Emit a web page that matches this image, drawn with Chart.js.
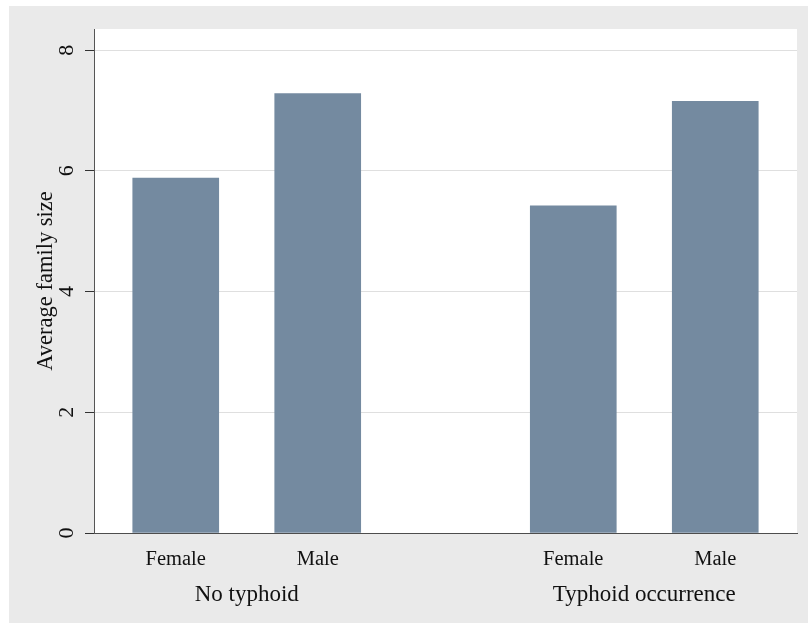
<!DOCTYPE html>
<html>
<head>
<meta charset="utf-8">
<title>Average family size</title>
<script src="https://cdn.jsdelivr.net/npm/chart.js@4"></script>
<style>
  body { margin: 0; background: #fff; }
  #wrap { width: 808px; height: 623px; }
</style>
</head>
<body>
<div id="wrap"><canvas id="familyChart" width="808" height="623"></canvas></div>
<script>
  var groups = ["No typhoid", "Typhoid occurrence"];
  var sexes = ["Female", "Male"];
  var femaleSize = [5.88, 5.42];
  var maleSize = [7.28, 7.15];
  var yTicks = [0, 2, 4, 6, 8];
  var yTickLabels = ["0", "2", "4", "6", "8"];

  var barColor = "#748aa0";
  var serif = "'Liberation Serif', 'Times New Roman', serif";

  // slots along x, counted in bar widths (stata-like gaps)
  var outerGap = 0.45, innerGap = 0.65, groupGap = 1.97;
  var groupSpan = sexes.length + (sexes.length - 1) * innerGap;
  var xMax = 2 * outerGap + groups.length * groupSpan + (groups.length - 1) * groupGap;

  function barPos(g, s) {
    return outerGap + g * (groupSpan + groupGap) + s * (1 + innerGap) + 0.5;
  }
  function groupPos(g) {
    return outerGap + g * (groupSpan + groupGap) + groupSpan / 2;
  }

  var catTicks = [], catLabels = [];
  groups.forEach(function (g, gi) {
    sexes.forEach(function (s, si) {
      catTicks.push(barPos(gi, si));
      catLabels.push(s);
    });
  });
  var groupTicks = groups.map(function (g, gi) { return groupPos(gi); });

  function seriesPoints(values, si) {
    return values.map(function (v, gi) { return { x: barPos(gi, si), y: v }; });
  }

  // grey outer box + white plot region
  var backdrop = {
    id: 'backdrop',
    beforeDraw: function (chart) {
      var ctx = chart.ctx, a = chart.chartArea;
      ctx.save();
      ctx.fillStyle = '#ffffff';
      ctx.fillRect(0, 0, chart.width, chart.height);
      ctx.fillStyle = '#eaeaea';
      ctx.fillRect(9, 6, chart.width - 9, chart.height - 6);
      ctx.fillStyle = '#ffffff';
      ctx.fillRect(a.left, a.top, a.right - a.left, a.bottom - a.top);
      ctx.restore();
    }
  };

  // y tick labels turned on their side, like the original
  var sideLabels = {
    id: 'sideLabels',
    afterDraw: function (chart) {
      var ctx = chart.ctx, y = chart.scales.y;
      ctx.save();
      ctx.fillStyle = '#111';
      ctx.font = '22px ' + serif;
      ctx.textAlign = 'center';
      ctx.textBaseline = 'middle';
      yTicks.forEach(function (v, i) {
        ctx.save();
        ctx.translate(y.left + 67, y.getPixelForValue(v));
        ctx.rotate(-Math.PI / 2);
        ctx.fillText(yTickLabels[i], 0, 0);
        ctx.restore();
      });
      ctx.restore();
    }
  };

  var ctx = document.getElementById('familyChart').getContext('2d');

  new Chart(ctx, {
    type: 'bar',
    data: {
      datasets: [{
        label: sexes[0],
        data: seriesPoints(femaleSize, 0),
        backgroundColor: barColor,
        barThickness: 86,
        grouped: false
      }, {
        label: sexes[1],
        data: seriesPoints(maleSize, 1),
        backgroundColor: barColor,
        barThickness: 86,
        grouped: false
      }]
    },
    options: {
      responsive: false,
      animation: false,
      layout: { padding: { left: 0, top: 29, right: 11, bottom: 0 } },
      plugins: {
        legend: { display: false },
        tooltip: { enabled: false }
      },
      scales: {
        x: {
          type: 'linear',
          position: 'bottom',
          weight: 0,
          min: 0,
          max: xMax,
          offset: false,
          grid: { display: false, drawTicks: false },
          border: { display: true, color: '#4d4d4d', width: 1 },
          afterBuildTicks: function (scale) {
            scale.ticks = catTicks.map(function (v) { return { value: v }; });
          },
          ticks: {
            autoSkip: false,
            maxRotation: 0,
            padding: 14,
            color: '#111',
            font: { family: serif, size: 20.5 },
            callback: function (v, i) { return catLabels[i]; }
          },
          afterFit: function (scale) { scale.height = 45; }
        },
        x2: {
          type: 'linear',
          position: 'bottom',
          weight: 1,
          min: 0,
          max: xMax,
          offset: false,
          grid: { display: false, drawTicks: false },
          border: { display: false },
          afterBuildTicks: function (scale) {
            scale.ticks = groupTicks.map(function (v) { return { value: v }; });
          },
          ticks: {
            autoSkip: false,
            maxRotation: 0,
            padding: 3,
            color: '#111',
            font: { family: serif, size: 23 },
            callback: function (v, i) { return groups[i]; }
          },
          afterFit: function (scale) { scale.height = 45; }
        },
        y: {
          type: 'linear',
          position: 'left',
          min: 0,
          max: 8.35,
          afterBuildTicks: function (scale) {
            scale.ticks = yTicks.map(function (v) { return { value: v }; });
          },
          grid: {
            color: function (c) { return c.tick && c.tick.value === 0 ? 'rgba(0,0,0,0)' : '#dfdfdf'; },
            tickColor: '#333',
            tickLength: 9,
            drawTicks: true
          },
          border: { display: true, color: '#555', width: 1 },
          ticks: { display: false },
          title: {
            display: true,
            text: 'Average family size',
            color: '#111',
            font: { family: serif, size: 22.5 },
            padding: { top: 32.5, bottom: 0 }
          },
          afterFit: function (scale) { scale.width = 94; }
        }
      }
    },
    plugins: [backdrop, sideLabels]
  });
</script>
</body>
</html>
